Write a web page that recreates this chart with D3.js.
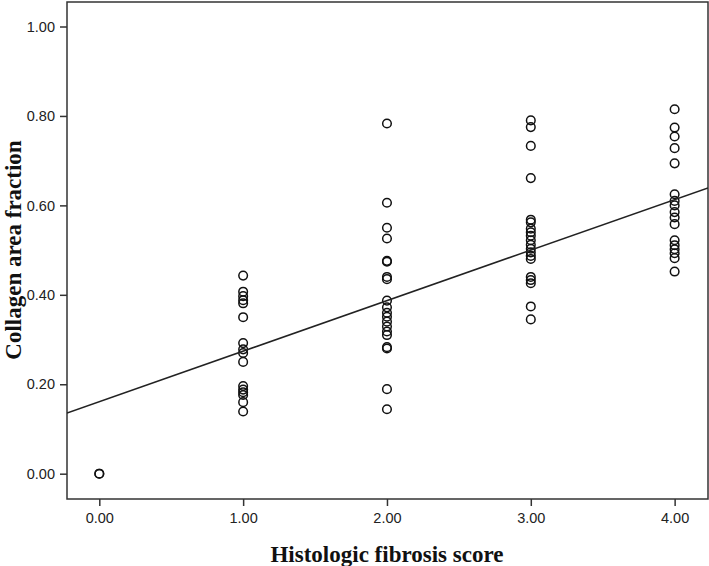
<!DOCTYPE html>
<html>
<head>
<meta charset="utf-8">
<script src="https://cdn.jsdelivr.net/npm/d3@7"></script>
<style>
  body { margin: 0; background: #fff; }
  svg { display: block; }
  .tick text { font-family: "Liberation Sans", Arial, sans-serif; font-size: 14.5px; fill: #222; }
  .axis-title { font-family: "Liberation Serif", "Times New Roman", serif; font-weight: bold; font-size: 23px; fill: #111; }
</style>
</head>
<body>
<svg id="chart" width="709" height="566"></svg>
<script>
// fibrosis score groups and the collagen area fraction read for each
var scores = [0, 1, 2, 3, 4];
var group0 = [0.0, 0.0];
var group1 = [0.443, 0.407, 0.397, 0.388, 0.381, 0.350, 0.292, 0.278, 0.270, 0.250, 0.196, 0.188, 0.182, 0.176, 0.160, 0.139];
var group2 = [0.783, 0.606, 0.550, 0.526, 0.476, 0.474, 0.440, 0.435, 0.387, 0.372, 0.360, 0.351, 0.340, 0.329, 0.318, 0.310, 0.283, 0.280, 0.189, 0.144];
var group3 = [0.790, 0.775, 0.733, 0.661, 0.568, 0.562, 0.548, 0.540, 0.532, 0.522, 0.512, 0.503, 0.495, 0.487, 0.480, 0.440, 0.433, 0.426, 0.374, 0.345];
var group4 = [0.815, 0.774, 0.754, 0.728, 0.694, 0.625, 0.610, 0.600, 0.585, 0.573, 0.558, 0.522, 0.511, 0.502, 0.493, 0.482, 0.452];
var groups = [group0, group1, group2, group3, group4];

// fit line
var fitIntercept = 0.161;
var fitSlope = 0.113;

var xTicks = [0, 1, 2, 3, 4];
var yTicks = [0, 0.2, 0.4, 0.6, 0.8, 1.0];

var svg = d3.select('#chart');
var margin = {top: 2, right: 1, bottom: 67, left: 67};
var width = 709 - margin.left - margin.right;
var height = 566 - margin.top - margin.bottom;

var x = d3.scaleLinear().domain([-0.2246, 4.232]).range([0, width]);
var y = d3.scaleLinear().domain([-0.0566, 1.0548]).range([height, 0]);

var g = svg.append('g').attr('transform', 'translate(' + margin.left + ',' + margin.top + ')');

svg.append('defs').append('clipPath').attr('id', 'clip')
    .append('rect').attr('width', width).attr('height', height);

// frame
g.append('rect')
    .attr('width', width)
    .attr('height', height)
    .attr('fill', 'none')
    .attr('stroke', '#333')
    .attr('stroke-width', 1.5);

var xAxis = g.append('g')
    .attr('transform', 'translate(0,' + height + ')')
    .call(d3.axisBottom(x).tickValues(xTicks).tickFormat(d3.format('.2f')).tickSize(7).tickPadding(7));
var yAxis = g.append('g')
    .call(d3.axisLeft(y).tickValues(yTicks).tickFormat(d3.format('.2f')).tickSize(7).tickPadding(5));

[xAxis, yAxis].forEach(function(a) {
    a.select('.domain').remove();
    a.selectAll('.tick line').attr('stroke', '#333').attr('stroke-width', 1.5);
});

// points
var points = [];
groups.forEach(function(vals, i) {
    vals.forEach(function(v) { points.push({score: scores[i], value: v}); });
});

g.append('g')
    .selectAll('circle')
    .data(points)
    .enter()
    .append('circle')
    .attr('cx', function(d) { return x(d.score); })
    .attr('cy', function(d) { return y(d.value); })
    .attr('r', 4.3)
    .attr('fill', 'none')
    .attr('stroke', '#111')
    .attr('stroke-width', 1.5);

// fit line across the plot
var xd = x.domain();
g.append('line')
    .attr('clip-path', 'url(#clip)')
    .attr('x1', x(xd[0]))
    .attr('y1', y(fitIntercept + fitSlope * xd[0]))
    .attr('x2', x(xd[1]))
    .attr('y2', y(fitIntercept + fitSlope * xd[1]))
    .attr('stroke', '#222')
    .attr('stroke-width', 1.5);

// axis titles
svg.append('text')
    .attr('class', 'axis-title')
    .attr('x', margin.left + x(2))
    .attr('y', 562)
    .attr('text-anchor', 'middle')
    .text('Histologic fibrosis score');

svg.append('text')
    .attr('class', 'axis-title')
    .attr('transform', 'translate(21,250) rotate(-90)')
    .attr('text-anchor', 'middle')
    .text('Collagen area fraction');
</script>
</body>
</html>
